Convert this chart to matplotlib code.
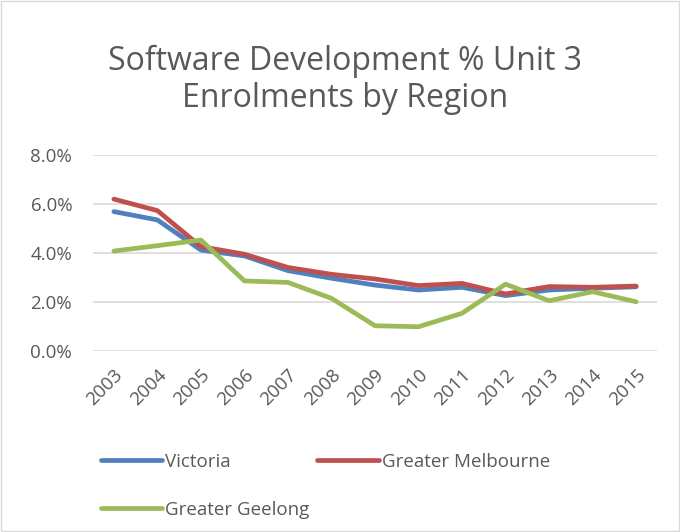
import matplotlib
matplotlib.use("Agg")
import matplotlib.pyplot as plt
from matplotlib.patches import Rectangle
from matplotlib.ticker import FuncFormatter

years = ["2003", "2004", "2005", "2006", "2007", "2008", "2009",
         "2010", "2011", "2012", "2013", "2014", "2015"]
victoria = [5.69, 5.35, 4.12, 3.88, 3.28, 2.97, 2.69, 2.49, 2.60, 2.26, 2.49, 2.56, 2.62]
melbourne = [6.20, 5.73, 4.26, 3.95, 3.41, 3.13, 2.94, 2.67, 2.76, 2.33, 2.63, 2.60, 2.65]
geelong = [4.08, 4.30, 4.53, 2.86, 2.80, 2.15, 1.03, 0.99, 1.54, 2.73, 2.05, 2.42, 2.01]

grey = "#595959"
plt.rcParams["font.family"] = ["Open Sans", "DejaVu Sans"]

fig = plt.figure(figsize=(6.8, 5.32), dpi=100)
ax = fig.add_axes([93 / 680, 1 - 351 / 532, (657 - 93) / 680, (351 - 155) / 532])

x = range(len(years))
l1, = ax.plot(x, victoria, color="#4F81BD", lw=3.4, solid_capstyle="round", label="Victoria")
l2, = ax.plot(x, melbourne, color="#C0504D", lw=3.4, solid_capstyle="round", label="Greater Melbourne")
l3, = ax.plot(x, geelong, color="#9BBB59", lw=3.4, solid_capstyle="round", label="Greater Geelong")

ax.set_ylim(0, 8)
ax.set_yticks([0, 2, 4, 6, 8])
ax.yaxis.set_major_formatter(FuncFormatter(lambda v, p: f"{v:.1f}%"))
ax.set_xlim(-0.48, len(years) - 1 + 0.48)
ax.set_xticks(list(x))
ax.set_xticklabels(years, rotation=45, ha="right", rotation_mode="anchor")
ax.tick_params(axis="x", length=0, labelsize=13.5, colors=grey, pad=11)
ax.tick_params(axis="y", length=0, labelsize=13.5, colors=grey, pad=15)
ax.grid(axis="y", color="#d9d9d9", lw=1.2)
ax.set_axisbelow(True)
for s in ax.spines.values():
    s.set_visible(False)

fig.text(345 / 680, 1 - 80 / 532, "Software Development % Unit 3\nEnrolments by Region",
         ha="center", va="center", fontsize=23, color=grey, linespacing=1.15)

ax.legend([l1, l3, l2], [l1.get_label(), l3.get_label(), l2.get_label()],
          loc="upper left", bbox_to_anchor=(0.0, -0.48), ncol=2, frameon=False,
          fontsize=13.5, labelcolor=grey, handlelength=3.3, handletextpad=0.15,
          columnspacing=0.4, labelspacing=1.6, borderaxespad=0)

fig.patches.append(Rectangle((0.001, 0.002), 0.997, 0.996, transform=fig.transFigure,
                             fill=False, edgecolor="#d9d9d9", lw=1))

fig.savefig("out.png", dpi=100)
